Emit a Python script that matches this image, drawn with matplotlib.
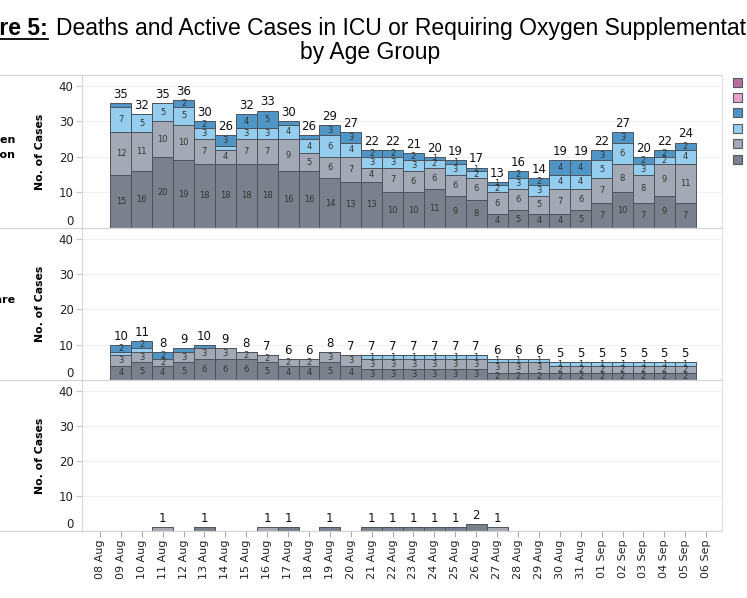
import numpy as np
import matplotlib
matplotlib.use("Agg")
import matplotlib.pyplot as plt
from matplotlib.lines import Line2D
from matplotlib.patches import Rectangle

# x axis ticks, 08 Aug .. 06 Sep; bars are drawn for 09 Aug .. 05 Sep
tick_dates = ["08 Aug", "09 Aug", "10 Aug", "11 Aug", "12 Aug", "13 Aug", "14 Aug", "15 Aug",
              "16 Aug", "17 Aug", "18 Aug", "19 Aug", "20 Aug", "21 Aug", "22 Aug", "23 Aug",
              "24 Aug", "25 Aug", "26 Aug", "27 Aug", "28 Aug", "29 Aug", "30 Aug", "31 Aug",
              "01 Sep", "02 Sep", "03 Sep", "04 Sep", "05 Sep", "06 Sep"]
bar_dates = tick_dates[1:-1]

# age groups, legend order (top to bottom)
age_groups = ["0-11 years", "12-19 years", "20-39 years", "40-59 years", "60-69 years", "70 years & above"]
age_colors = ["#b5709d", "#e4a3cb", "#4f95c5", "#94cdee", "#a4aab5", "#7a818c"]

# --- Requiring Oxygen Supplementation ---
oxy_70 = [15, 16, 20, 19, 18, 18, 18, 18, 16, 16, 14, 13, 13, 10, 10, 11, 9, 8, 4, 5, 4, 4, 5, 7, 10, 7, 9, 7]
oxy_60 = [12, 11, 10, 10, 7, 4, 7, 7, 9, 5, 6, 7, 4, 7, 6, 6, 6, 6, 6, 6, 5, 7, 6, 7, 8, 8, 9, 11]
oxy_40 = [7, 5, 5, 5, 3, 1, 3, 3, 4, 4, 6, 4, 3, 3, 3, 2, 3, 2, 2, 3, 3, 4, 4, 5, 6, 3, 2, 4]
oxy_20 = [1, 0, 0, 2, 2, 3, 4, 5, 1, 1, 3, 3, 2, 2, 2, 1, 1, 1, 1, 2, 2, 4, 4, 3, 3, 2, 2, 2]

# --- In ICU ---
icu_70 = [4, 5, 4, 5, 6, 6, 6, 5, 4, 4, 5, 4, 3, 3, 3, 3, 3, 3, 2, 2, 2, 2, 2, 2, 2, 2, 2, 2]
icu_60 = [3, 3, 2, 3, 3, 3, 2, 2, 2, 2, 3, 3, 3, 3, 3, 3, 3, 3, 3, 3, 3, 2, 2, 2, 2, 2, 2, 2]
icu_40 = [1, 1, 0, 0, 0, 0, 0, 0, 0, 0, 0, 0, 1, 1, 1, 1, 1, 1, 1, 1, 1, 1, 1, 1, 1, 1, 1, 1]
icu_20 = [2, 2, 2, 1, 1, 0, 0, 0, 0, 0, 0, 0, 0, 0, 0, 0, 0, 0, 0, 0, 0, 0, 0, 0, 0, 0, 0, 0]

# --- Deaths ---
death_70 = [0, 0, 0, 0, 1, 0, 0, 0, 1, 0, 1, 0, 1, 1, 1, 1, 1, 2, 0, 0, 0, 0, 0, 0, 0, 0, 0, 0]
death_60 = [0, 0, 1, 0, 0, 0, 0, 1, 0, 0, 0, 0, 0, 0, 0, 0, 0, 0, 1, 0, 0, 0, 0, 0, 0, 0, 0, 0]

zeros = [0] * len(bar_dates)
# row header (only the visible end of it shows in the reference), stacks, inner labels?
panels = [
    ("Requiring Oxygen\nSupplementation", [oxy_70, oxy_60, oxy_40, oxy_20, zeros, zeros], True),
    ("Intensive Care", [icu_70, icu_60, icu_40, icu_20, zeros, zeros], True),
    (None, [death_70, death_60, zeros, zeros, zeros, zeros], False),
]
stack_colors = age_colors[::-1]  # bottom of stack = oldest

W, H = 747, 598
def fx(px):
    return px / W
def fy(py):
    return 1 - py / H

fig = plt.figure(figsize=(7.47, 5.98), dpi=100)

tops = [75, 228, 380]
bots = [228, 380, 531]
x_left, x_right = 82, 722
xs = np.arange(1, len(bar_dates) + 1)

for p, (row_name, series, inner_labels) in enumerate(panels):
    ax = fig.add_axes([fx(x_left), fy(bots[p]), (x_right - x_left) / W, (bots[p] - tops[p]) / H])
    bottom = np.zeros(len(xs))
    for vals, col in zip(series, stack_colors):
        vals = np.array(vals)
        if vals.sum() == 0:
            continue
        ax.bar(xs, vals, width=1.0, bottom=bottom, color=col, edgecolor="#4d535b", linewidth=0.7, zorder=2)
        if inner_labels:
            for i, (x, v, b) in enumerate(zip(xs, vals, bottom)):
                # tableau hid the "1" labels on the early dates
                if v >= 2 or (v == 1 and i >= 12):
                    ax.text(x, b + v / 2, str(v), ha="center", va="center",
                            fontsize=6, color="#333333", zorder=3)
        bottom = bottom + vals
    for x, tot in zip(xs, bottom):
        if tot > 0:
            ax.text(x, tot + 0.6, str(int(tot)), ha="center", va="bottom", fontsize=8.5, color="#111111")

    ax.set_xlim(-0.86, 29.76)
    ax.set_ylim(0, 43)
    ax.set_yticks([0, 10, 20, 30, 40])
    ax.yaxis.grid(True, color="#f0f0f0", linewidth=0.8)
    ax.set_axisbelow(True)
    ax.tick_params(axis="y", length=4, color="#c8c8c8", labelsize=8.5, labelcolor="#222222", pad=2)
    t0 = ax.yaxis.get_major_ticks()[0]
    t0.tick1line.set_visible(False)
    t0.label1.set_verticalalignment("bottom")
    for s in ["top", "right", "bottom"]:
        ax.spines[s].set_visible(False)
    ax.spines["left"].set_color("#d8d8d8")
    ax.set_ylabel("No. of Cases", fontsize=7.8, fontweight="bold", labelpad=10)

    if p < 2:
        ax.set_xticks([])
    else:
        ax.set_xticks(np.arange(len(tick_dates)))
        ax.set_xticklabels(tick_dates, rotation=90, fontsize=8, color="#222222")
        ax.tick_params(axis="x", length=4, color="#aaaaaa", pad=2)

    if row_name:
        fig.text(fx(15), fy((tops[p] + bots[p]) / 2 - 4), row_name, ha="right", va="center",
                 fontsize=8, fontweight="bold", linespacing=1.6, multialignment="right")

# panel borders
for yy in [75, 228, 380, 531]:
    fig.add_artist(Line2D([0, fx(x_right)], [fy(yy), fy(yy)], color="#d4d4d4", lw=0.9))
fig.add_artist(Line2D([fx(x_right), fx(x_right)], [fy(75), fy(531)], color="#e0e0e0", lw=0.9))

# legend (labels run off the right edge)
for k, (name, col) in enumerate(zip(age_groups, age_colors)):
    yc = 82 + k * 15.4
    fig.add_artist(Rectangle((fx(733), fy(yc + 4.5)), 9 / W, 9 / H, transform=fig.transFigure,
                             facecolor=col, edgecolor="#555b63", lw=0.8))
    fig.text(fx(750), fy(yc), name, ha="left", va="center", fontsize=8)

# title
fig.text(fx(48), fy(35), "Figure 5:", ha="right", va="baseline", fontsize=16.5,
         fontweight="bold", family="Liberation Sans")
fig.add_artist(Line2D([0, fx(48)], [fy(39), fy(39)], color="black", lw=1.3))
fig.text(fx(56), fy(35), "Deaths and Active Cases in ICU or Requiring Oxygen Supplementation",
         ha="left", va="baseline", fontsize=16.5, family="Liberation Sans")
fig.text(fx(370), fy(59), "by Age Group", ha="center", va="baseline", fontsize=16.5, family="Liberation Sans")

fig.savefig("out.png", dpi=100)
